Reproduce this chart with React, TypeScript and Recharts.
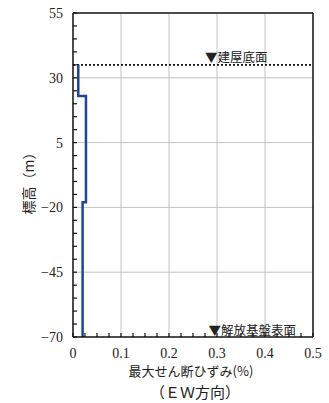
import React from 'react';
import { ComposedChart, Line, XAxis, YAxis, ReferenceLine } from 'recharts';

// Layer definitions (elevation in m, strain in %)
const layerTops = [35, 23, -18];
const layerBottoms = [23, -18, -70];
const layerStrains = [0.011, 0.027, 0.02];

const xMajorTicks = [0, 0.1, 0.2, 0.3, 0.4, 0.5];
const xMinorTicks = [0, 0.025, 0.05, 0.075, 0.1, 0.125, 0.15, 0.175, 0.2, 0.225, 0.25, 0.275, 0.3, 0.325, 0.35, 0.375, 0.4, 0.425, 0.45, 0.475, 0.5];
const yMajorTicks = [-70, -45, -20, 5, 30, 55];
const yMinorTicks = [-70, -65, -60, -55, -50, -45, -40, -35, -30, -25, -20, -15, -10, -5, 0, 5, 10, 15, 20, 25, 30, 35, 40, 45, 50, 55];

const buildingBase = 35;
const buildingBaseLabel = '▼建屋底面';
const bedrockLabel = '▼解放基盤表面';
const xLabel = '最大せん断ひずみ(%)';
const xLabel2 = '（ＥＷ方向）';
const yLabel = '標高（m）';

const stepData: { x: number; y: number }[] = [];
layerStrains.forEach((s, i) => {
  stepData.push({ x: s, y: layerTops[i] });
  stepData.push({ x: s, y: layerBottoms[i] });
});

const SERIF = '"Liberation Serif", "DejaVu Serif", serif';
const CJK = '"Noto Sans CJK JP", sans-serif';

const isMajorX = (v: number) => xMajorTicks.some((t) => Math.abs(t - v) < 1e-9);
const isMajorY = (v: number) => yMajorTicks.some((t) => Math.abs(t - v) < 1e-9);

const XTick = (props: any) => {
  const { x, y, payload } = props;
  const v = payload.value as number;
  return (
    <g>
      <line x1={x} y1={y} x2={x} y2={y - 4} stroke="#111" strokeWidth={1.2} />
      {isMajorX(v) && (
        <text x={x} y={y + 21} textAnchor="middle" fontFamily={SERIF} fontSize={14} fill="#222">
          {v === 0 ? '0' : String(v)}
        </text>
      )}
    </g>
  );
};

const YTick = (props: any) => {
  const { x, y, payload } = props;
  const v = payload.value as number;
  return (
    <g>
      <line x1={x} y1={y} x2={x + 4} y2={y} stroke="#111" strokeWidth={1.2} />
      {isMajorY(v) && (
        <text x={x - 10} y={y + 5} textAnchor="end" fontFamily={SERIF} fontSize={14} fill="#222">
          {v < 0 ? '−' + Math.abs(v) : String(v)}
        </text>
      )}
    </g>
  );
};

const makeLabel = (text: string, frac: number, dy: number) => (props: any) => {
  const vb = props.viewBox || {};
  return (
    <text x={vb.x + vb.width * frac} y={vb.y + dy} fontFamily={CJK} fontSize={12.5} fill="#222">
      {text}
    </text>
  );
};

export default function App() {
  return (
    <div style={{ position: 'absolute', left: 0, top: 0, width: 329, height: 403, background: '#fff' }}>
      <ComposedChart
        width={329}
        height={403}
        data={stepData}
        margin={{ top: 13, right: 16, bottom: 36, left: 33 }}
      >
        <XAxis
          type="number"
          dataKey="x"
          domain={[0, 0.5]}
          ticks={xMinorTicks}
          interval={0}
          tickSize={0}
          tickMargin={0}
          tickLine={false}
          tick={<XTick />}
          height={30}
          axisLine={{ stroke: '#111', strokeWidth: 1.5 }}
          allowDataOverflow
        />
        <YAxis
          type="number"
          domain={[-70, 55]}
          ticks={yMinorTicks}
          interval={0}
          tickSize={0}
          tickMargin={0}
          tickLine={false}
          tick={<YTick />}
          width={40}
          axisLine={{ stroke: '#111', strokeWidth: 1.5 }}
          allowDataOverflow
        />
        {xMajorTicks.slice(1, -1).map((t) => (
          <ReferenceLine key={'gx' + t} x={t} stroke="#b4b4b4" strokeWidth={0.8} />
        ))}
        {yMajorTicks.slice(1, -1).map((t) => (
          <ReferenceLine key={'gy' + t} y={t} stroke="#b4b4b4" strokeWidth={0.8} />
        ))}
        <ReferenceLine y={55} stroke="#111" strokeWidth={1.5} />
        <ReferenceLine x={0.5} stroke="#111" strokeWidth={1.5} />
        <ReferenceLine
          y={buildingBase}
          stroke="#111"
          strokeWidth={1.6}
          strokeDasharray="2 2"
          label={makeLabel(buildingBaseLabel, 0.55, -3)}
        />
        <ReferenceLine
          y={layerBottoms[layerBottoms.length - 1]}
          stroke="none"
          label={makeLabel(bedrockLabel, 0.565, -2)}
        />
        <Line
          type="linear"
          dataKey="y"
          stroke="#1f4596"
          strokeWidth={2.5}
          dot={false}
          isAnimationActive={false}
        />
        <text x={191} y={376} textAnchor="middle" fontFamily={CJK} fontSize={13} fill="#222">
          {xLabel}
        </text>
        <text x={195} y={398} textAnchor="middle" fontFamily={CJK} fontSize={15} fill="#222">
          {xLabel2}
        </text>
        <text
          x={28}
          y={180}
          textAnchor="middle"
          fontFamily={CJK}
          fontSize={14}
          fill="#222"
          transform="rotate(-90 28 180)"
          dominantBaseline="central"
        >
          {yLabel}
        </text>
      </ComposedChart>
    </div>
  );
}
